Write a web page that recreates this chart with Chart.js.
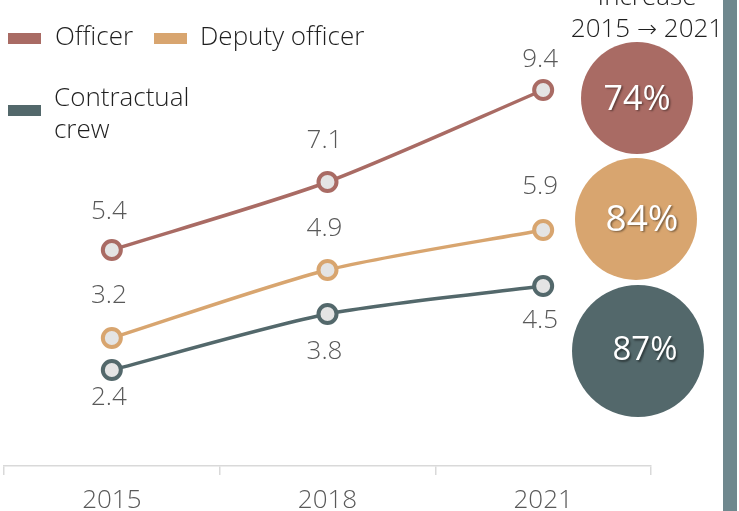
<!DOCTYPE html>
<html>
<head>
<meta charset="utf-8">
<script src="https://cdn.jsdelivr.net/npm/chart.js@4"></script>
<style>
  html, body { margin: 0; padding: 0; background: #fff; }
  #wrap { position: relative; width: 739px; height: 511px; }
</style>
</head>
<body>
<div id="wrap"><canvas id="crew-chart"></canvas></div>
<script>
const years = ['2015', '2018', '2021'];
const officer = [5.4, 7.1, 9.4];
const deputyOfficer = [3.2, 4.9, 5.9];
const contractualCrew = [2.4, 3.8, 4.5];
const increaseLabels = ['74%', '84%', '87%'];

const FONT = '"Open Sans", sans-serif';
const colors = { officer: '#a96b64', deputy: '#d8a56f', crew: '#53686b' };

// value labels next to each point
const valueLabels = {
  id: 'valueLabels',
  afterDatasetsDraw(chart) {
    const ctx = chart.ctx;
    ctx.save();
    ctx.font = '300 26px ' + FONT;
    ctx.fillStyle = '#595959';
    ctx.textAlign = 'center';
    ctx.textBaseline = 'middle';
    chart.data.datasets.forEach((ds, i) => {
      chart.getDatasetMeta(i).data.forEach((pt, j) => {
        ctx.fillText(ds.data[j].toFixed(1), pt.x - 3, pt.y + ds.labelDy[j]);
      });
    });
    ctx.restore();
  }
};

// legend, "increase" bubbles and side bar
const decorations = {
  id: 'decorations',
  afterDraw(chart) {
    const ctx = chart.ctx;
    ctx.save();

    // legend
    ctx.font = '300 26px ' + FONT;
    ctx.textBaseline = 'middle';
    ctx.textAlign = 'left';
    ctx.fillStyle = colors.officer;
    ctx.fillRect(8, 33, 33, 11);
    ctx.fillStyle = colors.deputy;
    ctx.fillRect(154, 33, 33, 11);
    ctx.fillStyle = colors.crew;
    ctx.fillRect(8, 105, 33, 11);
    ctx.fillStyle = '#1f1f1f';
    ctx.fillText('Officer', 55, 38);
    ctx.fillText('Deputy officer', 200, 38);
    ctx.fillText('Contractual', 54, 99);
    ctx.fillText('crew', 54, 131);

    // header
    ctx.textAlign = 'center';
    ctx.fillText('Increase', 647, -2);
    ctx.textAlign = 'left';
    const a = '2015 ', b = ' 2021';
    const wa = ctx.measureText(a).width, wb = ctx.measureText(b).width;
    ctx.font = '200 24px "DejaVu Sans", sans-serif';
    const wArrow = ctx.measureText('\u2192').width;
    const x0 = 647 - (wa + wArrow + wb) / 2;
    ctx.font = '300 26px ' + FONT;
    ctx.fillText(a, x0, 30);
    ctx.font = '200 24px "DejaVu Sans", sans-serif';
    ctx.fillText('\u2192', x0 + wa, 31);
    ctx.font = '300 26px ' + FONT;
    ctx.fillText(b, x0 + wa + wArrow, 30);

    // bubbles
    ctx.textAlign = 'center';
    const bubbles = [
      { x: 637, y: 98, r: 56, c: colors.officer, tx: 637, ty: 100, size: 34 },
      { x: 636, y: 219, r: 61, c: colors.deputy, tx: 642, ty: 220, size: 37 },
      { x: 638, y: 351, r: 66, c: colors.crew, tx: 645, ty: 351, size: 33 }
    ];
    bubbles.forEach((bb, i) => {
      ctx.beginPath();
      ctx.arc(bb.x, bb.y, bb.r, 0, Math.PI * 2);
      ctx.fillStyle = bb.c;
      ctx.fill();
      ctx.save();
      ctx.font = bb.size + 'px "Open Sans", sans-serif';
      ctx.fillStyle = '#ffffff';
      ctx.shadowColor = 'rgba(0,0,0,0.45)';
      ctx.shadowOffsetX = 1.5;
      ctx.shadowOffsetY = 1.5;
      ctx.shadowBlur = 2;
      ctx.fillText(increaseLabels[i], bb.tx, bb.ty);
      ctx.restore();
    });

    // side bar
    ctx.fillStyle = '#6f888e';
    ctx.fillRect(723, 0, 14, 511);
    ctx.restore();
  }
};

const ctx = document.getElementById('crew-chart').getContext('2d');
const chart = new Chart(ctx, {
  type: 'line',
  data: {
    labels: years,
    datasets: [
      {
        label: 'Officer',
        data: officer,
        borderColor: colors.officer,
        pointBorderColor: colors.officer,
        labelDy: [-38, -41, -30]
      },
      {
        label: 'Deputy officer',
        data: deputyOfficer,
        borderColor: colors.deputy,
        pointBorderColor: colors.deputy,
        labelDy: [-42, -41, -43]
      },
      {
        label: 'Contractual crew',
        data: contractualCrew,
        borderColor: colors.crew,
        pointBorderColor: colors.crew,
        labelDy: [28, 38, 35]
      }
    ]
  },
  options: {
    responsive: true,
    maintainAspectRatio: false,
    animation: false,
    layout: { autoPadding: false, padding: { left: 4, right: 88, top: 26, bottom: 0 } },
    elements: {
      line: { borderWidth: 3.5, tension: 0.25, fill: false },
      point: { radius: 9, borderWidth: 4, backgroundColor: '#e4e4e4', hoverRadius: 9 }
    },
    plugins: {
      legend: { display: false },
      tooltip: { enabled: false }
    },
    scales: {
      x: {
        offset: true,
        grid: { offset: true, drawOnChartArea: false, tickLength: 9, color: '#d9d9d9', lineWidth: 1.5 },
        border: { color: '#d9d9d9', width: 1.5 },
        ticks: { color: '#595959', font: { family: FONT, size: 26, weight: '300' }, padding: 10 },
        afterFit(scale) {
          scale.height = 45;
          scale.paddingLeft = 0;
          scale.paddingRight = 0;
        }
      },
      y: { display: false, min: 0, max: 11 }
    }
  },
  plugins: [valueLabels, decorations]
});
</script>
</body>
</html>
